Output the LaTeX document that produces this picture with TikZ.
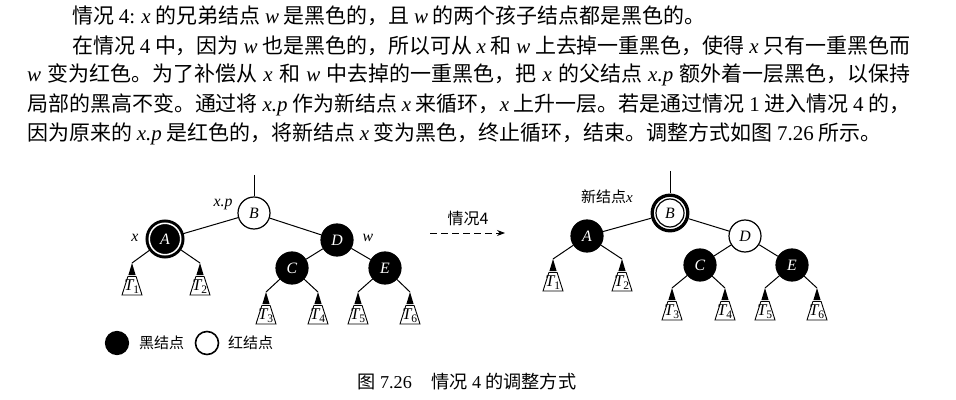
\documentclass[tikz,border=0pt]{standalone}
\usepackage{fontspec}
\setmainfont{Noto Sans CJK SC}
\newfontfamily\latfont{Liberation Serif}
\usetikzlibrary{arrows.meta, positioning, calc}

\XeTeXlinebreaklocale "zh"
\XeTeXlinebreakskip=0pt plus 1pt

% one pixel of the page
\newlength\px
\setlength\px{0.03cm}

\newcommand\vv[1]{{\latfont\itshape #1}}
\newcommand\nm[1]{{\latfont #1}}

\tikzset{
    % --- Black tree node ---
    black node/.style = {
        circle, draw=black, fill=black, line width=1.2\px,
        minimum size=32\px, inner sep=0pt, text=white,
        font=\latfont\itshape\fontsize{13.5pt}{15pt}\selectfont
    },
    % --- Red tree node (drawn white) ---
    red node/.style = {
        black node, fill=white, text=black
    },
    % --- Node x carrying an extra black ---
    x node/.style = {
        black node, line width=3\px, double=white,
        double distance=1.5\px, minimum size=31.5\px
    },
    % --- New node x (red + extra black) ---
    new x/.style = {
        red node, minimum size=28\px, outer sep=5.5\px
    },
    % --- Outer ring of the new node x ---
    ring/.style = {
        line width=3.3\px
    },
    % --- Tree edge ---
    edge/.style = {
        line width=1\px
    },
    % --- Pointer label (x, w, x.p) ---
    pointer/.style = {
        font=\latfont\itshape\fontsize{13.5pt}{15pt}\selectfont,
        inner sep=0pt
    },
    % --- Subtree label ---
    tlabel/.style = {
        font=\latfont\itshape\fontsize{14pt}{15pt}\selectfont,
        inner sep=0pt
    },
    % --- Subtree triangle ---
    pics/subtree/.style = {code = {
        \coordinate (-top) at (0,0);
        \fill (0,0) -- (-3.6,12) -- (3.6,12) -- cycle;
        \draw[fill=white, line width=0.9\px]
            (-4.1,13.5) -- (4.1,13.5) -- (10,32) -- (-10,32) -- cycle;
        \node[tlabel] at (0,23.5) {T\textsubscript{\upshape #1}};
    }},
    % --- Paragraph line ---
    para line/.style = {
        anchor=west, inner sep=0pt,
        font=\fontsize{17.9pt}{20pt}\selectfont
    },
    % --- Legend text ---
    legend/.style = {
        anchor=west, inner sep=0pt,
        font=\fontsize{12.8pt}{14pt}\selectfont
    },
    % --- Case transition arrow ---
    case arrow/.style = {
        line width=0.85pt, dash pattern=on 6pt off 3.4pt,
        -{Stealth[length=6.8pt, width=5.1pt]}
    }
}

\begin{document}
\begin{tikzpicture}[x=0.03cm, y=-0.03cm]

\useasboundingbox (0,0) rectangle (956,400);

% ---------------------------------------------------------
% Text above the figure
% ---------------------------------------------------------
\node[para line] (line1) at (72,16) {情况 \nm{4:} \vv{x} 的兄弟结点 \vv{w} 是黑色的，且 \vv{w} 的两个孩子结点都是黑色的。};
\node[para line] (line2) at (72,45.5) {\makebox[838\px][s]{在情况 \nm{4} 中，因为 \vv{w} 也是黑色的，所以可从 \vv{x} 和 \vv{w} 上去掉一重黑色，使得 \vv{x} 只有一重黑色而}};
\node[para line] (line3) at (27,75) {\makebox[883\px][s]{\vv{w} 变为红色。为了补偿从 \vv{x} 和 \vv{w} 中去掉的一重黑色，把 \vv{x} 的父结点 \vv{x.p} 额外着一层黑色，以保持}};
\node[para line] (line4) at (27,104.5) {\makebox[883\px][s]{局部的黑高不变。通过将 \vv{x.p} 作为新结点 \vv{x} 来循环，\vv{x} 上升一层。若是通过情况 \nm{1} 进入情况 \nm{4} 的，}};
\node[para line] (line5) at (27,134) {因为原来的 \vv{x.p} 是红色的，将新结点 \vv{x} 变为黑色，终止循环，结束。调整方式如图 \nm{7.26} 所示。};

% ---------------------------------------------------------
% Tree before (left)
% ---------------------------------------------------------
\coordinate (LTop) at (254,175);
\node[red node] (LB) at (254,213) {B};
\node[x node] (LA) at (165,239) {A};
\node[black node] (LD) at (337,240) {D};
\node[black node] (LC) at (292,268) {C};
\node[black node] (LE) at (385,268) {E};

\pic (L1) at (132,263) {subtree=1};
\pic (L2) at (200,263) {subtree=2};
\pic (L3) at (266,292) {subtree=3};
\pic (L4) at (318,292) {subtree=4};
\pic (L5) at (358,292) {subtree=5};
\pic (L6) at (410,292) {subtree=6};

\draw[edge] (LTop) -- (LB);
\draw[edge] (LB) -- (LA);
\draw[edge] (LB) -- (LD);
\draw[edge] (LD) -- (LC);
\draw[edge] (LD) -- (LE);
\draw[edge] (LA) -- (L1-top);
\draw[edge] (LA) -- (L2-top);
\draw[edge] (LC) -- (L3-top);
\draw[edge] (LC) -- (L4-top);
\draw[edge] (LE) -- (L5-top);
\draw[edge] (LE) -- (L6-top);

\node[pointer] (Lxp) at (223,204) {x.p};
\node[pointer] (Lx) at (135,238) {x};
\node[pointer] (Lw) at (368,238) {w};

% ---------------------------------------------------------
% Case arrow
% ---------------------------------------------------------
\coordinate (ArrS) at (430,233);
\coordinate (ArrE) at (505,233);
\draw[case arrow] (ArrS) -- (ArrE);
\node[font=\fontsize{13.6pt}{15pt}\selectfont, inner sep=0pt] (ArrLbl) at (468,218) {情况4};

% ---------------------------------------------------------
% Tree after (right)
% ---------------------------------------------------------
\coordinate (RTop) at (670,171);
\node[new x] (RB) at (670,213) {B};
\draw[ring] (RB.center) circle[radius=17.8\px];
\node[black node] (RA) at (587,236) {A};
\node[red node] (RD) at (745,236) {D};
\node[black node] (RC) at (700,265) {C};
\node[black node] (RE) at (792,265) {E};

\pic (R1) at (553,259) {subtree=1};
\pic (R2) at (622,259) {subtree=2};
\pic (R3) at (672,288) {subtree=3};
\pic (R4) at (725,288) {subtree=4};
\pic (R5) at (765,288) {subtree=5};
\pic (R6) at (817,288) {subtree=6};

\draw[edge] (RTop) -- (RB);
\draw[edge] (RB) -- (RA);
\draw[edge] (RB) -- (RD);
\draw[edge] (RD) -- (RC);
\draw[edge] (RD) -- (RE);
\draw[edge] (RA) -- (R1-top);
\draw[edge] (RA) -- (R2-top);
\draw[edge] (RC) -- (R3-top);
\draw[edge] (RC) -- (R4-top);
\draw[edge] (RE) -- (R5-top);
\draw[edge] (RE) -- (R6-top);

\node[font=\fontsize{12.8pt}{14pt}\selectfont, inner sep=0pt] (NewX) at (607,197) {新结点\vv{x}};

% ---------------------------------------------------------
% Legend
% ---------------------------------------------------------
\node[black node, minimum size=23\px] (KeyB) at (117,343) {};
\node[legend] (KeyBT) at (139,343) {黑结点};
\node[red node, minimum size=23\px, line width=1.6\px] (KeyR) at (207,343) {};
\node[legend] (KeyRT) at (228,343) {红结点};

% ---------------------------------------------------------
% Caption
% ---------------------------------------------------------
\node[font=\fontsize{15.5pt}{17pt}\selectfont, inner sep=0pt] (Cap) at (467,382) {图 \nm{7.26}\hspace{1.1em}情况 \nm{4} 的调整方式};

\end{tikzpicture}
\end{document}
